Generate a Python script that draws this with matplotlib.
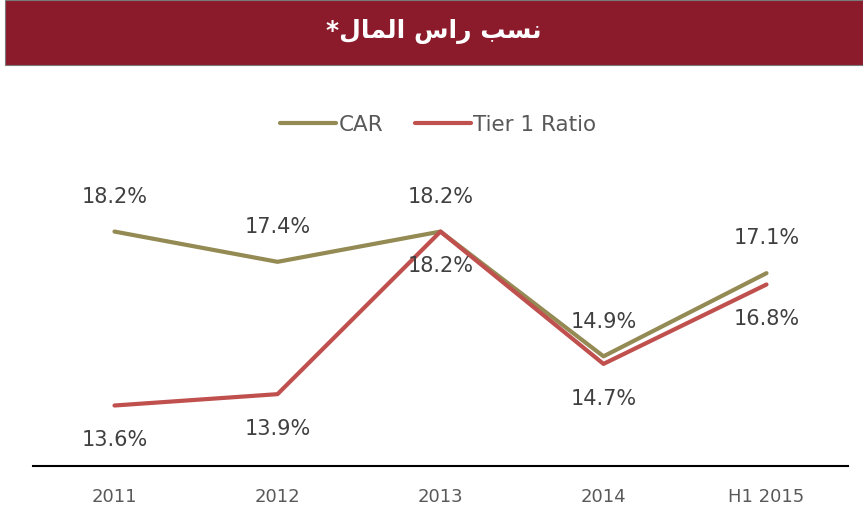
import matplotlib.pyplot as plt
from matplotlib.patches import Rectangle

categories = ["2011", "2012", "2013", "2014", "H1 2015"]
car = [18.2, 17.4, 18.2, 14.9, 17.1]
tier1 = [13.6, 13.9, 18.2, 14.7, 16.8]

# Arabic title in presentation forms, visual order (matplotlib has no shaping)
title = "*" + "\uFEDD\uFE8E\uFEE4\uFEDF\uFE8D" + " " + "\uFEB1\uFE8D\uFEAD" + " " + "\uFE90\uFEB4\uFEE7"

car_color = "#948A54"
tier_color = "#C0504D"
text_color = "#404040"

fig = plt.figure(figsize=(8.63, 5.15), dpi=100)

# title banner
fig.patches.append(Rectangle((5 / 863, 1 - 65 / 515), 858 / 863, 65 / 515,
                             transform=fig.transFigure, facecolor="#8B1A2B",
                             edgecolor="#7a7a7a", lw=0.8))
fig.text(0.503, 1 - 31 / 515, title, color="white", fontsize=18, fontweight="bold",
         ha="center", va="center", family=["DejaVu Sans"])

ax = fig.add_axes([33 / 863, 1 - 466 / 515, 815 / 863, (466 - 163.5) / 515])
x = list(range(len(categories)))
ax.plot(x, car, color=car_color, lw=3.0, solid_capstyle="round", label="CAR")
ax.plot(x, tier1, color=tier_color, lw=3.0, solid_capstyle="round", label="Tier 1 Ratio")
ax.set_xlim(-0.5, len(categories) - 0.5)
ax.set_ylim(12, 20)

for i in x:
    ax.annotate(f"{car[i]:.1f}%", (i, car[i]), xytext=(0, 25), textcoords="offset points",
                ha="center", va="center", fontsize=15, color=text_color)
    ax.annotate(f"{tier1[i]:.1f}%", (i, tier1[i]), xytext=(0, -25), textcoords="offset points",
                ha="center", va="center", fontsize=15, color=text_color)

for s in ["top", "right", "left"]:
    ax.spines[s].set_visible(False)
ax.spines["bottom"].set_linewidth(1.5)
ax.set_yticks([])
ax.set_xticks(x)
ax.set_xticklabels(categories, fontsize=13, color="#595959")
ax.tick_params(axis="x", length=0, pad=16)

leg = fig.legend(loc="center", bbox_to_anchor=(0.508, 1 - 125 / 515), ncol=2, frameon=False,
                 fontsize=15.5, handlelength=2.6, handletextpad=0.1, columnspacing=1.5)
for t in leg.get_texts():
    t.set_color("#595959")

fig.savefig("out.png", dpi=100)
